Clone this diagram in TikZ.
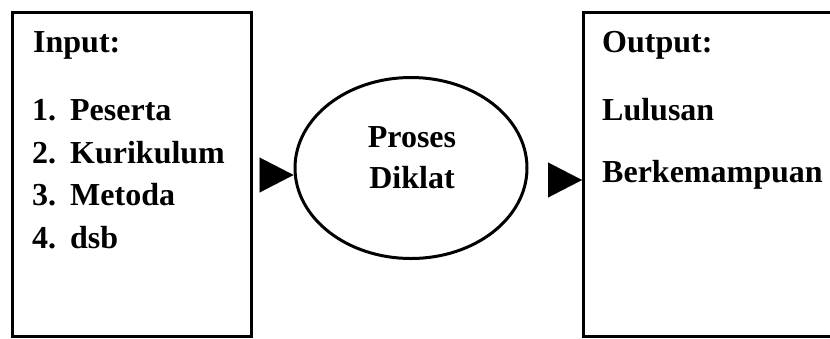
\documentclass[tikz,border=0pt]{standalone}
\usepackage{fontspec}
\setmainfont{Liberation Serif}
\usetikzlibrary{arrows.meta,shapes.geometric}
\begin{document}
\begin{tikzpicture}[x=1pt,y=-1pt,
  frame/.style={draw,line width=3pt,inner sep=0pt,anchor=north west},
  txt/.style={inner sep=0pt,anchor=base west,font=\bfseries\fontsize{32}{38}\selectfont},
  ctxt/.style={txt,anchor=base},
  arr/.style={white,line width=0.2pt,-{Triangle[length=34pt,width=35pt,black]}}]
\useasboundingbox (0,0) rectangle (830,338);
\clip (0,0) rectangle (830,338);

% input, process and output blocks
\node[frame,minimum width=239pt,minimum height=324pt] (inbox) at (11,11) {};
\node[frame,minimum width=260pt,minimum height=324pt] (outbox) at (582,11) {};
\node[draw,ellipse,line width=3pt,inner sep=0pt,minimum width=232pt,minimum height=181pt] (prc) at (411,168) {};

% input list
\node[txt] (inhead) at (33,52) {Input:};
\node[txt] (in1) at (32,120) {\makebox[38pt][l]{1.}Peserta};
\node[txt] (in2) at (32,163) {\makebox[38pt][l]{2.}Kurikulum};
\node[txt] (in3) at (32,205) {\makebox[38pt][l]{3.}Metoda};
\node[txt] (in4) at (32,248) {\makebox[38pt][l]{4.}dsb};

% process label
\node[ctxt] (p1) at (412,147) {Proses};
\node[ctxt] (p2) at (412,188) {Diklat};

% output list
\node[txt] (outhead) at (602,52) {Output:};
\node[txt] (out1) at (602,120) {Lulusan};
\node[txt] (out2) at (602,182) {Berkemampuan};

% flow arrows (heads only)
\coordinate (a1) at (261,175);
\draw[arr] (a1) -- (a1 -| prc.west);
\coordinate (a2) at (544,180);
\draw[arr] (a2) -- (a2 -| outbox.west);
\end{tikzpicture}
\end{document}
